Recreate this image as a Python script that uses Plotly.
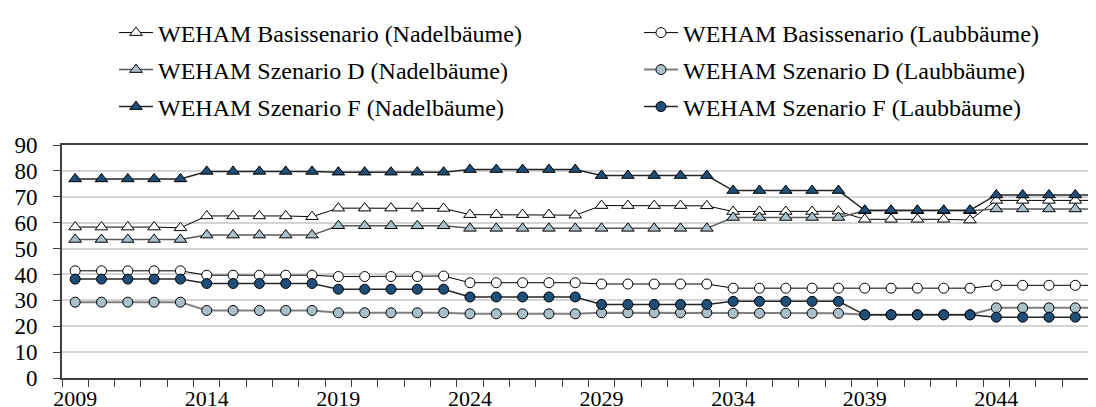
import plotly.graph_objects as go

years = list(range(2009, 2049))
tick_years = [2009, 2014, 2019, 2024, 2029, 2034, 2039, 2044]

basis_nadel = [58.3, 58.3, 58.3, 58.3, 58.0,
               62.6, 62.6, 62.6, 62.6, 62.3,
               65.6, 65.6, 65.6, 65.6, 65.5,
               63.1, 63.1, 63.1, 63.1, 62.9,
               66.6, 66.6, 66.6, 66.6, 66.5,
               64.3, 64.3, 64.3, 64.3, 64.4,
               61.3, 61.3, 61.3, 61.3, 61.0,
               68.6, 68.6, 68.6, 68.6, 68.6]
d_nadel = [53.5, 53.5, 53.5, 53.5, 53.5,
           55.2, 55.2, 55.2, 55.2, 55.2,
           58.8, 58.8, 58.8, 58.8, 58.8,
           57.8, 57.8, 57.8, 57.8, 57.8,
           57.8, 57.8, 57.8, 57.8, 57.8,
           62.0, 62.0, 62.0, 62.0, 62.0,
           64.6, 64.6, 64.6, 64.6, 64.6,
           65.3, 65.3, 65.3, 65.3, 65.3]
f_nadel = [76.9, 76.9, 76.9, 76.9, 76.9,
           79.8, 79.8, 79.8, 79.8, 79.8,
           79.5, 79.5, 79.5, 79.5, 79.5,
           80.5, 80.5, 80.5, 80.5, 80.5,
           78.2, 78.2, 78.2, 78.2, 78.2,
           72.4, 72.4, 72.4, 72.4, 72.4,
           64.8, 64.8, 64.8, 64.8, 64.8,
           70.7, 70.7, 70.7, 70.7, 70.7]
basis_laub = [41.4, 41.4, 41.4, 41.4, 41.4,
              39.7, 39.7, 39.7, 39.7, 39.7,
              39.2, 39.2, 39.2, 39.2, 39.4,
              36.8, 36.8, 36.8, 36.8, 36.8,
              36.3, 36.3, 36.3, 36.3, 36.3,
              34.7, 34.7, 34.7, 34.7, 34.7,
              34.7, 34.7, 34.7, 34.7, 34.7,
              35.8, 35.8, 35.8, 35.8, 35.8]
d_laub = [29.3, 29.3, 29.3, 29.3, 29.3,
          26.1, 26.1, 26.1, 26.1, 26.1,
          25.2, 25.2, 25.2, 25.2, 25.2,
          24.8, 24.8, 24.8, 24.8, 24.8,
          25.2, 25.2, 25.2, 25.2, 25.2,
          25.0, 25.0, 25.0, 25.0, 25.0,
          24.4, 24.4, 24.4, 24.4, 24.4,
          27.1, 27.1, 27.1, 27.1, 27.1]
f_laub = [38.2, 38.2, 38.2, 38.2, 38.2,
          36.5, 36.5, 36.5, 36.5, 36.5,
          34.3, 34.3, 34.3, 34.3, 34.3,
          31.3, 31.3, 31.3, 31.3, 31.3,
          28.4, 28.4, 28.4, 28.4, 28.4,
          29.6, 29.6, 29.6, 29.6, 29.6,
          24.4, 24.4, 24.4, 24.4, 24.4,
          23.5, 23.5, 23.5, 23.5, 23.5]

FONT = "Liberation Serif"
DARK = "#1f4e79"
LIGHT = "#a9bfc9"

# name, values, symbol, fill, line colour, line width, legend id, column, row
series = [
    ("WEHAM Basissenario (Nadelbäume)", basis_nadel, "triangle-up", "white", "#000000", 1, "legend", 0, 0),
    ("WEHAM Basissenario (Laubbäume)", basis_laub, "circle", "white", "#000000", 1, "legend2", 1, 0),
    ("WEHAM Szenario D (Nadelbäume)", d_nadel, "triangle-up", LIGHT, "#595959", 1.5, "legend3", 0, 1),
    ("WEHAM Szenario D (Laubbäume)", d_laub, "circle", LIGHT, "#7f7f7f", 2, "legend4", 1, 1),
    ("WEHAM Szenario F (Nadelbäume)", f_nadel, "triangle-up", DARK, "#262626", 1.5, "legend5", 0, 2),
    ("WEHAM Szenario F (Laubbäume)", f_laub, "circle", DARK, "#262626", 1.5, "legend6", 1, 2),
]

col_x = [106, 631]
row_y = [25, 62, 99]

fig = go.Figure()
legends = {}
for name, vals, sym, fill, lcol, lw, lg, col, row in series:
    fig.add_trace(go.Scatter(
        x=years, y=vals, name=name, mode="lines+markers",
        line=dict(color=lcol, width=lw),
        marker=dict(symbol=sym, size=11 if sym == "triangle-up" else 10,
                    color=fill, line=dict(color="#000000", width=1)),
        legend=lg,
    ))
    legends[lg] = dict(orientation="h", xref="container", yref="container",
                       x=col_x[col] / 1096, y=1 - row_y[row] / 407,
                       xanchor="left", yanchor="middle",
                       font=dict(family=FONT, size=24, color="#000000"),
                       bgcolor="rgba(0,0,0,0)", itemwidth=34)

fig.update_layout(
    width=1096, height=407,
    margin=dict(l=54, r=0, t=137, b=37),
    paper_bgcolor="white", plot_bgcolor="white",
    font=dict(family=FONT, size=23, color="#000000"),
    showlegend=True,
    xaxis=dict(
        range=[2008.5, 2048.09],
        tickvals=tick_years, ticktext=[str(t) for t in tick_years],
        ticks="", ticklabelstandoff=0,
        showgrid=False, zeroline=False,
        showline=True, linecolor="#404040", linewidth=2, mirror=True,
        tickfont=dict(family=FONT, size=22),
        minor=dict(ticks="outside", ticklen=7, tickcolor="#404040", tickwidth=1,
                   tick0=2008.5, dtick=1, showgrid=False),
    ),
    yaxis=dict(
        range=[0, 90], dtick=10, tick0=0,
        ticks="outside", ticklen=7, tickcolor="#404040", tickwidth=1,
        showgrid=True, gridcolor="#d4d4d4", gridwidth=1.5,
        zeroline=False,
        showline=True, linecolor="#404040", linewidth=2,
        tickfont=dict(family=FONT, size=23),
        ticklabelstandoff=11,
    ),
    **legends,
)

fig.write_html("out.html")
